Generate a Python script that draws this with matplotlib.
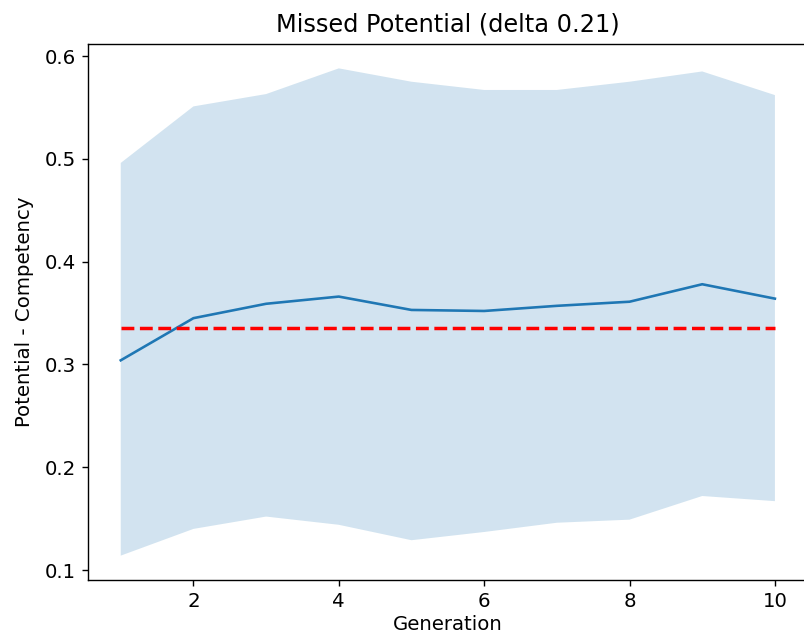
import numpy as np
import matplotlib
matplotlib.use("Agg")
import matplotlib.pyplot as plt

# Per-generation statistics of potential minus competency
generations = [1, 2, 3, 4, 5, 6, 7, 8, 9, 10]
mean_gap = [0.304, 0.345, 0.359, 0.366, 0.353, 0.352, 0.357, 0.361, 0.378, 0.364]
upper_gap = [0.496, 0.551, 0.563, 0.588, 0.575, 0.567, 0.567, 0.575, 0.585, 0.562]
lower_gap = [0.114, 0.140, 0.152, 0.144, 0.129, 0.137, 0.146, 0.149, 0.172, 0.167]
overall_mean = 0.335
delta = 0.21

plt.rcParams['font.size'] = 11.4

fig = plt.figure(figsize=(6.432, 5.12), dpi=125)
ax = fig.add_axes([0.1095, 0.09375, 0.895, 0.8375])

ax.fill_between(generations, lower_gap, upper_gap, alpha=0.2)
ax.plot(generations, mean_gap)
ax.hlines(overall_mean, generations[0], generations[-1],
          colors='r', linestyles='--', linewidth=2)

ax.set_xticks([2, 4, 6, 8, 10])
ax.set_xlabel('Generation', labelpad=2)
ax.set_ylabel('Potential - Competency', labelpad=6)
ax.set_title('Missed Potential (delta ' + str(delta) + ')', fontsize=13.8, pad=7)

fig.savefig('out.png')
